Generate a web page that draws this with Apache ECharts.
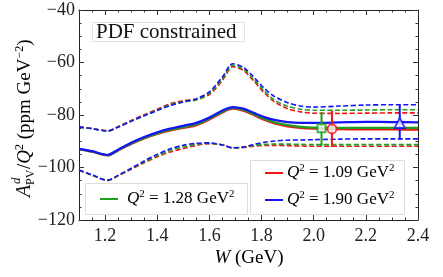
<!DOCTYPE html>
<html><head><meta charset="utf-8">
<script src="https://cdn.jsdelivr.net/npm/echarts@6/dist/echarts.min.js"></script>
<style>html,body{margin:0;padding:0;background:#fff}#c{width:443px;height:277px}</style>
</head><body><div id="c"></div>
<script>
const W = [1.10,1.15,1.21,1.25,1.30,1.35,1.40,1.45,1.50,1.55,1.60,1.65,1.69,1.73,1.77,1.81,1.85,1.90,1.95,2.00,2.10,2.20,2.30,2.40];
const centralRed   = [-93.0,-94.0,-95.4,-93.5,-91.0,-88.9,-87.2,-85.9,-84.9,-83.9,-81.7,-79.0,-77.6,-78.3,-80.0,-81.8,-83.2,-84.3,-84.9,-85.2,-85.4,-85.5,-85.5,-85.6];
const centralGreen = [-93.0,-93.9,-95.3,-93.4,-90.8,-88.7,-87.0,-85.6,-84.6,-83.5,-81.4,-78.7,-77.3,-78.0,-79.7,-81.4,-82.8,-83.9,-84.5,-84.8,-84.9,-84.9,-84.9,-84.9];
const centralBlue  = [-92.9,-93.8,-95.2,-93.2,-90.6,-88.4,-86.6,-85.2,-84.1,-83.0,-81.0,-78.3,-77.0,-77.6,-79.2,-80.8,-81.9,-82.7,-83.0,-83.0,-82.8,-82.6,-82.7,-82.8];
const upperRed   = [-84.5,-85.2,-86.0,-84.4,-82.1,-79.9,-77.8,-75.7,-74.5,-74.0,-72.2,-66.8,-61.6,-63.0,-67.0,-71.5,-75.0,-77.6,-78.8,-79.3,-79.4,-79.3,-79.2,-79.2];
const upperGreen = [-84.6,-85.2,-86.1,-84.6,-82.3,-80.2,-78.1,-76.1,-75.0,-74.3,-71.8,-66.2,-61.1,-62.5,-66.4,-70.8,-74.3,-76.7,-77.8,-78.2,-78.2,-78.1,-78.0,-78.0];
const upperBlue  = [-84.6,-85.2,-86.1,-84.6,-82.4,-80.3,-78.3,-76.4,-75.0,-73.8,-71.2,-65.5,-60.5,-61.8,-65.5,-69.8,-73.0,-75.3,-76.6,-77.0,-76.6,-76.2,-76.1,-76.1];
const lowerRed   = [-101.0,-102.9,-104.9,-103.2,-100.7,-98.2,-95.9,-94.1,-92.8,-91.6,-90.9,-91.4,-92.5,-92.4,-91.9,-91.6,-91.6,-91.7,-91.8,-91.9,-91.9,-91.9,-91.9,-91.9];
const lowerGreen = [-101.0,-102.9,-104.9,-103.1,-100.5,-97.9,-95.5,-93.5,-92.2,-91.2,-90.8,-91.4,-92.5,-92.3,-91.6,-91.2,-91.1,-91.1,-91.2,-91.3,-91.3,-91.3,-91.3,-91.3];
const lowerBlue  = [-101.0,-102.8,-104.8,-103.0,-100.3,-97.5,-95.0,-92.9,-91.5,-90.8,-90.6,-91.4,-92.5,-92.2,-91.2,-90.4,-89.9,-89.6,-89.5,-89.4,-89.2,-89.1,-89.1,-89.1];
// data points: [W, value, upper, lower]
const pointRed   = [2.07, -85.3, -78.5, -92.2];
const pointGreen = [2.03, -85.0, -78.9, -91.8];
const pointBlue  = [2.33, -83.0, -76.2, -89.3];
const xTicks = [1.2,1.4,1.6,1.8,2.0,2.2,2.4];
const legendLabels = ['1.09','1.28','1.90'];

const RED='#f01414', GREEN='#1f9f1f', BLUE='#1414f5';
const FONT='Liberation Serif';
const pair = ys => W.map((w,i)=>[w,ys[i]]);

function lineSeries(ys,color,dashed){
  return {type:'line',data:pair(ys),smooth:0.3,symbol:'none',silent:true,animation:false,
    lineStyle:{color:color,width:dashed?1.6:2.3,type:dashed?[5,2.5]:'solid'},z:dashed?2:3};
}
function pointSeries(p,color,symbol,size){
  return [{type:'custom',animation:false,silent:true,z:4,
    data:[[p[0],p[2],p[3]]],
    renderItem:(params,api)=>{
      const a=api.coord([api.value(0),api.value(1)]);
      const b=api.coord([api.value(0),api.value(2)]);
      return {type:'line',shape:{x1:a[0],y1:a[1],x2:b[0],y2:b[1]},style:{stroke:color,lineWidth:2}};
    }},
   {type:'scatter',animation:false,silent:true,z:5,data:[[p[0],p[1]]],symbol:symbol,symbolSize:size,
    itemStyle:{color:'#fff',borderColor:color,borderWidth:2}}];
}

const series=[
  lineSeries(upperRed,RED,true),lineSeries(lowerRed,RED,true),
  lineSeries(upperGreen,GREEN,true),lineSeries(lowerGreen,GREEN,true),
  lineSeries(upperBlue,BLUE,true),lineSeries(lowerBlue,BLUE,true),
  lineSeries(centralRed,RED,false),lineSeries(centralGreen,GREEN,false),lineSeries(centralBlue,BLUE,false),
  ...pointSeries(pointGreen,GREEN,'rect',8),
  ...pointSeries(pointRed,RED,'circle',9),
  ...pointSeries(pointBlue,BLUE,'triangle',10)
];

const axCommon={type:'value',min:1.1,max:2.4,splitLine:{show:false}};
const tickStyle={color:'#333',width:1};
function mkRich(fs){
  return {i:{fontFamily:FONT,fontStyle:'italic',fontSize:fs,lineHeight:fs+3,color:'#111'},
          n:{fontFamily:FONT,fontSize:fs,lineHeight:fs+3,color:'#111'},
          s:{fontFamily:FONT,fontSize:Math.round(fs*0.65),lineHeight:Math.round(fs*0.65),verticalAlign:'top',color:'#111'}};
}
const rich=mkRich(17), richT=mkRich(19);
function legendText(x,y,val){
  return {type:'text',x:x,y:y,z:20,style:{text:'{i|Q}{s|2}{n| = '+val+' GeV}{s|2}',rich:rich,verticalAlign:'middle',align:'left'}};
}
function legendLine(x,y,color){
  return {type:'line',z:20,shape:{x1:x,y1:y,x2:x+18,y2:y},style:{stroke:color,lineWidth:2}};
}

const option={
  animation:false,
  grid:{left:79,right:25,top:10,bottom:57,show:false},
  xAxis:[
    Object.assign({},axCommon,{position:'bottom',interval:0.05,axisLine:{show:true,lineStyle:{color:'#222'}},
      axisTick:{show:true,inside:true,length:2.5,lineStyle:tickStyle},axisLabel:{show:false}}),
    Object.assign({},axCommon,{position:'bottom',interval:0.05,axisLine:{show:false},
      axisTick:{show:true,inside:true,length:5,customValues:xTicks,lineStyle:tickStyle},
      axisLabel:{show:true,customValues:xTicks,fontFamily:FONT,fontSize:18,color:'#222',margin:7,formatter:v=>v.toFixed(1)}}),
    Object.assign({},axCommon,{position:'top',interval:0.05,axisLine:{show:true,lineStyle:{color:'#222'}},
      axisTick:{show:true,inside:true,length:2.5,lineStyle:tickStyle},axisLabel:{show:false}}),
    Object.assign({},axCommon,{position:'top',interval:0.05,axisLine:{show:false},
      axisTick:{show:true,inside:true,length:5,customValues:xTicks,lineStyle:tickStyle},axisLabel:{show:false}})
  ],
  yAxis:[
    {type:'value',position:'left',min:-120,max:-40,interval:20,splitLine:{show:false},
     axisLine:{show:true,lineStyle:{color:'#222'}},
     axisTick:{show:true,inside:true,length:5,lineStyle:tickStyle},
     minorTick:{show:true,splitNumber:4,length:2.5,lineStyle:tickStyle},
     axisLabel:{fontFamily:FONT,fontSize:18,color:'#222',margin:4,formatter:v=>String(v).replace('-','\u2212')}},
    {type:'value',position:'right',min:-120,max:-40,interval:20,splitLine:{show:false},
     axisLine:{show:true,lineStyle:{color:'#222'}},
     axisTick:{show:true,inside:true,length:5,lineStyle:tickStyle},
     minorTick:{show:true,splitNumber:4,length:2.5,lineStyle:tickStyle},
     axisLabel:{show:false}}
  ],
  series:series,
  graphic:[
    {type:'rect',shape:{x:92.5,y:22.5,width:152,height:19},style:{fill:'#fff',stroke:'#e2e2e2',lineWidth:1},z:10},
    {type:'text',x:96,y:32,z:11,style:{text:'PDF constrained',fontFamily:FONT,fontSize:21,fill:'#111',verticalAlign:'middle'}},
    {type:'rect',shape:{x:85.5,y:183.5,width:162,height:31},style:{fill:'#fff',stroke:'#ddd',lineWidth:1},z:10},
    legendLine(100,199,GREEN),legendText(127,199,legendLabels[1]),
    {type:'rect',shape:{x:250.5,y:160.5,width:154,height:54},style:{fill:'#fff',stroke:'#ddd',lineWidth:1},z:10},
    legendLine(265,173,RED),legendText(287,173,legendLabels[0]),
    legendLine(265,200,BLUE),legendText(287,200,legendLabels[2]),
    {type:'text',x:249,y:258,style:{text:'{i|W}{n| (GeV)}',rich:richT,align:'center',verticalAlign:'middle'}},
    {type:'group',x:25,y:197,rotation:Math.PI/2,children:[
      {type:'text',x:0,y:0,style:{text:'A',fontFamily:FONT,fontStyle:'italic',fontSize:20,fill:'#111',verticalAlign:'middle'}},
      {type:'text',x:13,y:-8,style:{text:'d',fontFamily:FONT,fontStyle:'italic',fontSize:13,fill:'#111',verticalAlign:'middle'}},
      {type:'text',x:12,y:6,style:{text:'PV',fontFamily:FONT,fontSize:12,fill:'#111',verticalAlign:'middle'}},
      {type:'text',x:28,y:0,style:{text:'{n|/}{i|Q}{s|2}{n| (ppm GeV}{s|\u22122}{n|)}',rich:richT,verticalAlign:'middle'}}
    ]}
  ]
};
echarts.init(document.getElementById('c')).setOption(option);
</script></body></html>
